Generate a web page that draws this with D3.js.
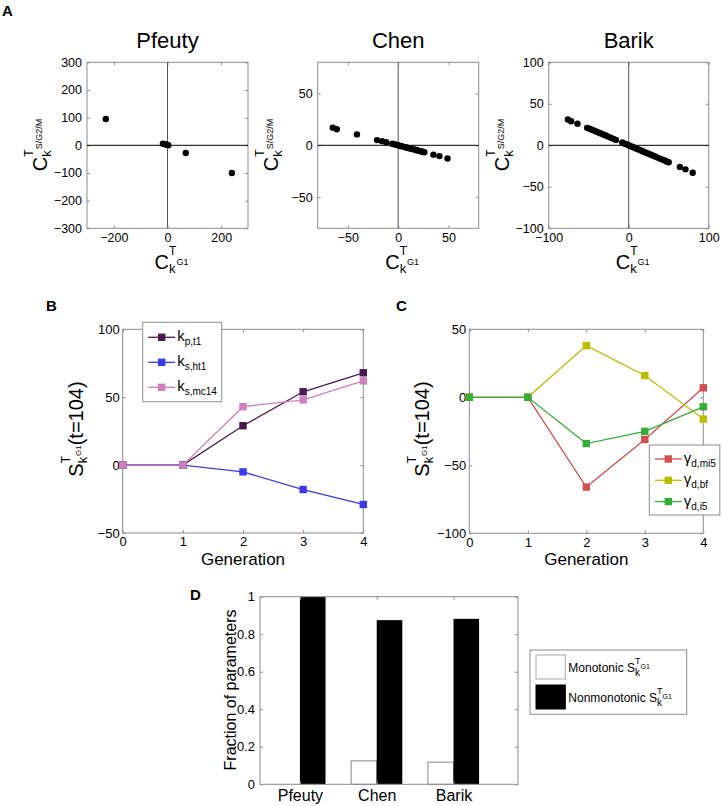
<!DOCTYPE html>
<html><head><meta charset="utf-8">
<script src="https://cdn.jsdelivr.net/npm/d3@7"></script>
<style>body{margin:0;background:#fff}</style>
</head><body>
<script>
const FONT = '"Liberation Sans", Arial, Helvetica, sans-serif';

// ---------- Panel A data ----------
const pfeutyX = [-230, -17, -8, -2, 3, 68, 240];
const pfeutyY = [95, 6, 4, 2, 0, -28, -100];
const chenX = [-65, -61, -41, -21, -16, -12, -6, -4, -2, 0, 1, 3, 4, 6, 8, 9, 11, 13, 14, 16, 18, 19, 21, 23, 24, 26, 35, 41, 49];
const chenY = [17, 15.5, 10.5, 5, 4, 3, 1.5, 1, 0.5, 0, -0.3, -0.8, -1, -1.5, -2, -2.3, -2.8, -3.3, -3.6, -4.1, -4.6, -4.9, -5.4, -5.9, -6.2, -6.7, -9, -10.4, -12.7];
const barikX = [-76, -72, -64, -52, -49, -46, -43, -40, -37, -34, -31, -28, -25, -22, -19, -16, -8, -5, -3, 0, 2, 5, 8, 10, 13, 16, 18, 21, 24, 27, 30, 33, 36, 39, 42, 45, 48, 50, 64, 71, 80];
const barikY = [31, 29, 26, 21, 20, 18.8, 17.6, 16.4, 15.2, 13.9, 12.7, 11.5, 10.2, 9, 7.8, 6.5, 3.3, 2, 1.2, 0, -0.8, -2, -3.3, -4.1, -5.3, -6.6, -7.4, -8.6, -9.8, -11, -12.3, -13.5, -14.8, -16, -17.2, -18.4, -19.7, -20.5, -26, -29, -33];
const pfeutyTicks = [-300, -200, -100, 0, 100, 200, 300];
const pfeutyXTicks = [-200, 0, 200];
const chenTicks = [-50, 0, 50];
const barikYTicks = [-100, -50, 0, 50, 100];
const barikXTicks = [-100, 0, 100];

// ---------- Panel B data ----------
const generations = [0, 1, 2, 3, 4];
const kpt1 = [0, 0, 29, 54, 68];
const ksht1 = [0, 0, -5, -18, -29];
const ksmc14 = [0, 0, 43, 48, 62];
const bYTicks = [-50, 0, 50, 100];

// ---------- Panel C data ----------
const gdmi5 = [0, 0, -66, -31, 7];
const gdbf = [0, 0, 38, 16, -16];
const gdi5 = [0, 0, -34, -25, -7];
const cYTicks = [-100, -50, 0, 50];

// ---------- Panel D data ----------
const models = ['Pfeuty', 'Chen', 'Barik'];
const monotonic = [0, 0.125, 0.118];
const nonmonotonic = [1, 0.875, 0.882];
const dYTicks = [0, 0.2, 0.4, 0.6, 0.8, 1];

const W = 722, H = 806;
const svg = d3.select('body').append('svg').attr('width', W).attr('height', H)
  .attr('font-family', FONT);
const BOX = '#8c8c8c';
const fmt = d => (d < 0 ? '\u2212' + Math.abs(d) : String(d));

function frame(g, xs, ys, o) {
  const [x0, x1] = xs.range(), [y0, y1] = ys.range();
  g.append('rect').attr('x', x0).attr('y', y1).attr('width', x1 - x0).attr('height', y0 - y1)
    .attr('fill', 'none').attr('stroke', BOX).attr('stroke-width', 1);
  const ax = (axis, tr) => g.append('g').attr('transform', tr).call(axis)
    .attr('font-family', FONT).attr('font-size', o.fs || 12)
    .call(s => s.select('.domain').remove())
    .call(s => s.selectAll('line').attr('stroke', BOX))
    .call(s => s.selectAll('text').attr('fill', '#000'));
  const tl = o.tl || 3;
  ax(d3.axisBottom(xs).tickValues(o.xt).tickFormat(o.xf || fmt).tickSizeInner(-tl).tickSizeOuter(0).tickPadding(o.xpad || 5), `translate(0,${y0})`);
  ax(d3.axisTop(xs).tickValues(o.xt).tickFormat('').tickSizeInner(-tl).tickSizeOuter(0), `translate(0,${y1})`);
  ax(d3.axisLeft(ys).tickValues(o.yt).tickFormat(o.yf || fmt).tickSizeInner(-tl).tickSizeOuter(0).tickPadding(o.ypad || 4), `translate(${x0},0)`);
  ax(d3.axisRight(ys).tickValues(o.yt).tickFormat('').tickSizeInner(-tl).tickSizeOuter(0), `translate(${x1},0)`);
}

function rich(parent, parts, x, y, rot, anchor) {
  const g = parent.append('g').attr('font-family', FONT);
  const inner = g.append('g');
  let cx = 0, lastStart = 0;
  parts.forEach(p => {
    const px = p.stack ? lastStart : cx;
    const t = inner.append('text').attr('x', px).attr('y', p.dy || 0).attr('font-size', p.s)
      .attr('fill', '#000').text(p.t);
    const w = t.node().getComputedTextLength();
    if (p.stack) cx = Math.max(cx, px + w);
    else { lastStart = px; cx = px + w; }
  });
  const off = anchor === 'start' ? 0 : -cx / 2;
  inner.attr('transform', `translate(${off},0)`);
  g.attr('transform', `translate(${x},${y}) rotate(${rot || 0})`);
  return g;
}

function panelLetter(t, x, y) {
  svg.append('text').attr('x', x).attr('y', y).attr('font-size', 15).attr('font-weight', 'bold').text(t);
}

// ---------- Panel A ----------
panelLetter('A', 2, 16);
const aPanels = [
  { name: 'Pfeuty', X: pfeutyX, Y: pfeutyY, xr: [87, 248], dom: 300, yt: pfeutyTicks, xt: pfeutyXTicks },
  { name: 'Chen', X: chenX, Y: chenY, xr: [317.7, 478.7], dom: 80, yt: chenTicks, xt: chenTicks },
  { name: 'Barik', X: barikX, Y: barikY, xr: [548.7, 708.7], dom: 100, yt: barikYTicks, xt: barikXTicks }
];
aPanels.forEach(p => {
  const g = svg.append('g');
  const xs = d3.scaleLinear().domain([-p.dom, p.dom]).range(p.xr);
  const ys = d3.scaleLinear().domain([-p.dom, p.dom]).range([228.3, 62.3]);
  frame(g, xs, ys, { xt: p.xt, yt: p.yt, fs: 12.5, xpad: 5, ypad: 5 });
  g.append('line').attr('x1', xs.range()[0]).attr('x2', xs.range()[1]).attr('y1', ys(0)).attr('y2', ys(0)).attr('stroke', '#000').attr('stroke-width', 1);
  g.append('line').attr('x1', xs(0)).attr('x2', xs(0)).attr('y1', ys.range()[0]).attr('y2', ys.range()[1]).attr('stroke', '#555').attr('stroke-width', 1);
  g.selectAll('circle.pt').data(d3.range(p.X.length)).join('circle').attr('class', 'pt')
    .attr('cx', i => xs(p.X[i])).attr('cy', i => ys(p.Y[i])).attr('r', 3.2).attr('fill', '#000');
  const cx = (p.xr[0] + p.xr[1]) / 2;
  g.append('text').attr('x', cx).attr('y', 48).attr('text-anchor', 'middle').attr('font-size', 22).text(p.name);
  rich(g, [{ t: 'C', s: 20 }, { t: 'T', s: 12, dy: -14 }, { t: 'k', s: 13, dy: 4, stack: true }, { t: 'G1', s: 9, dy: -4 }], cx + 4, 269, 0);
  rich(g, [{ t: 'C', s: 20 }, { t: 'T', s: 12, dy: -14 }, { t: 'k', s: 13, dy: 4, stack: true }, { t: 'S/G2/M', s: 9, dy: -5 }], p.xr[0] - 40, 145, -90);
});

// ---------- Line panels (B, C) ----------
function linePanel(o) {
  const g = svg.append('g');
  const xs = d3.scaleLinear().domain([0, 4]).range(o.xr);
  const ys = d3.scaleLinear().domain(o.ydom).range(o.yr);
  frame(g, xs, ys, { xt: generations, yt: o.yt, fs: 13, xpad: 4, ypad: 3 });
  const line = d3.line().x((d, i) => xs(generations[i])).y(d => ys(d));
  o.series.forEach(s => {
    g.append('path').datum(s.v).attr('d', line).attr('fill', 'none').attr('stroke', s.c).attr('stroke-width', 1.3);
    g.selectAll(null).data(s.v).join('rect')
      .attr('x', (d, i) => xs(generations[i]) - 3.7).attr('y', d => ys(d) - 3.7)
      .attr('width', 7.4).attr('height', 7.4).attr('fill', s.c);
  });
  const cx = (o.xr[0] + o.xr[1]) / 2;
  g.append('text').attr('x', cx).attr('y', 565).attr('text-anchor', 'middle').attr('font-size', 17).text('Generation');
  rich(g, [{ t: 'S', s: 20 }, { t: 'T', s: 12, dy: -13 }, { t: 'k', s: 13, dy: 4, stack: true }, { t: 'G1', s: 8, dy: -2 }, { t: '(t=104)', s: 20 }],
    o.xr[0] - 40, 429, -90);
  // legend
  const L = o.leg;
  g.append('rect').attr('x', L.x).attr('y', L.y).attr('width', L.w).attr('height', L.h)
    .attr('fill', '#fff').attr('stroke', BOX);
  o.series.forEach((s, i) => {
    const yy = L.y + L.r0 + i * L.dy;
    g.append('line').attr('x1', L.x + 5.5).attr('x2', L.x + 32.5).attr('y1', yy).attr('y2', yy).attr('stroke', s.c).attr('stroke-width', 1.3);
    g.append('rect').attr('x', L.x + 19 - 3.7).attr('y', yy - 3.7).attr('width', 7.4).attr('height', 7.4).attr('fill', s.c);
    rich(g, [{ t: L.sym, s: 15 }, { t: s.sub, s: 10, dy: 4 }], L.x + 34.5, yy + 4, 0, 'start');
  });
}

panelLetter('B', 46, 311);
linePanel({
  xr: [122.7, 363.3], ydom: [-50, 100], yr: [533, 329.3], yt: bYTicks,
  series: [
    { v: kpt1, c: '#4b1a4e', sub: 'p,t1' },
    { v: ksht1, c: '#3a3ae8', sub: 's,ht1' },
    { v: ksmc14, c: '#cf7fbd', sub: 's,mc14' }
  ],
  leg: { x: 142.7, y: 322.3, w: 79, h: 79.4, r0: 15, dy: 25, sym: 'k' }
});

panelLetter('C', 396, 311);
linePanel({
  xr: [469.3, 703.3], ydom: [-100, 50], yr: [533.3, 329.3], yt: cYTicks,
  series: [
    { v: gdmi5, c: '#d24d4d', sub: 'd,mi5' },
    { v: gdbf, c: '#bdbd00', sub: 'd,bf' },
    { v: gdi5, c: '#36ad36', sub: 'd,i5' }
  ],
  leg: { x: 649.3, y: 445, w: 70.5, h: 70, r0: 14, dy: 21.3, sym: '\u03b3' }
});

// ---------- Panel D ----------
panelLetter('D', 190, 600);
(function () {
  const g = svg.append('g');
  const xs = d3.scaleLinear().domain([0.48, 3.84]).range([260, 518]);
  const ys = d3.scaleLinear().domain([0, 1]).range([784.3, 596.7]);
  const bw = xs(1.333) - xs(1);
  g.selectAll('rect.mono').data(monotonic).join('rect').attr('class', 'mono')
    .attr('x', (d, i) => xs(i + 1) - bw).attr('y', d => ys(d)).attr('width', bw).attr('height', d => ys(0) - ys(d))
    .attr('fill', '#fff').attr('stroke', '#888').attr('stroke-width', 1);
  g.selectAll('rect.non').data(nonmonotonic).join('rect').attr('class', 'non')
    .attr('x', (d, i) => xs(i + 1)).attr('y', d => ys(d)).attr('width', bw).attr('height', d => ys(0) - ys(d))
    .attr('fill', '#000');
  frame(g, xs, ys, { xt: [1, 2, 3], xf: (d) => models[d - 1], yt: dYTicks, yf: d => String(d), fs: 13, xpad: 5, ypad: 5 });
  g.selectAll('g text').filter(function () { return models.includes(this.textContent); }).attr('font-size', 16);
  g.append('text').attr('transform', 'translate(236,690) rotate(-90)').attr('text-anchor', 'middle')
    .attr('font-size', 16).text('Fraction of parameters');
  // legend
  g.append('rect').attr('x', 530).attr('y', 650).attr('width', 156.7).attr('height', 64.3).attr('fill', '#fff').attr('stroke', BOX);
  const entries = [{ f: '#fff', t: 'Monotonic ' }, { f: '#000', t: 'Nonmonotonic ' }];
  entries.forEach((e, i) => {
    const yy = 655 + i * 30;
    g.append('rect').attr('x', 536).attr('y', yy).attr('width', 29.3).attr('height', 24)
      .attr('fill', e.f).attr('stroke', i === 0 ? '#aaa' : '#000');
    rich(g, [{ t: e.t + 'S', s: 12 }, { t: 'T', s: 9, dy: -8 }, { t: 'k', s: 10, dy: 4, stack: true }, { t: 'G1', s: 7, dy: -3 }], 568.3, yy + 16.5, 0, 'start');
  });
})();
</script>
</body></html>
